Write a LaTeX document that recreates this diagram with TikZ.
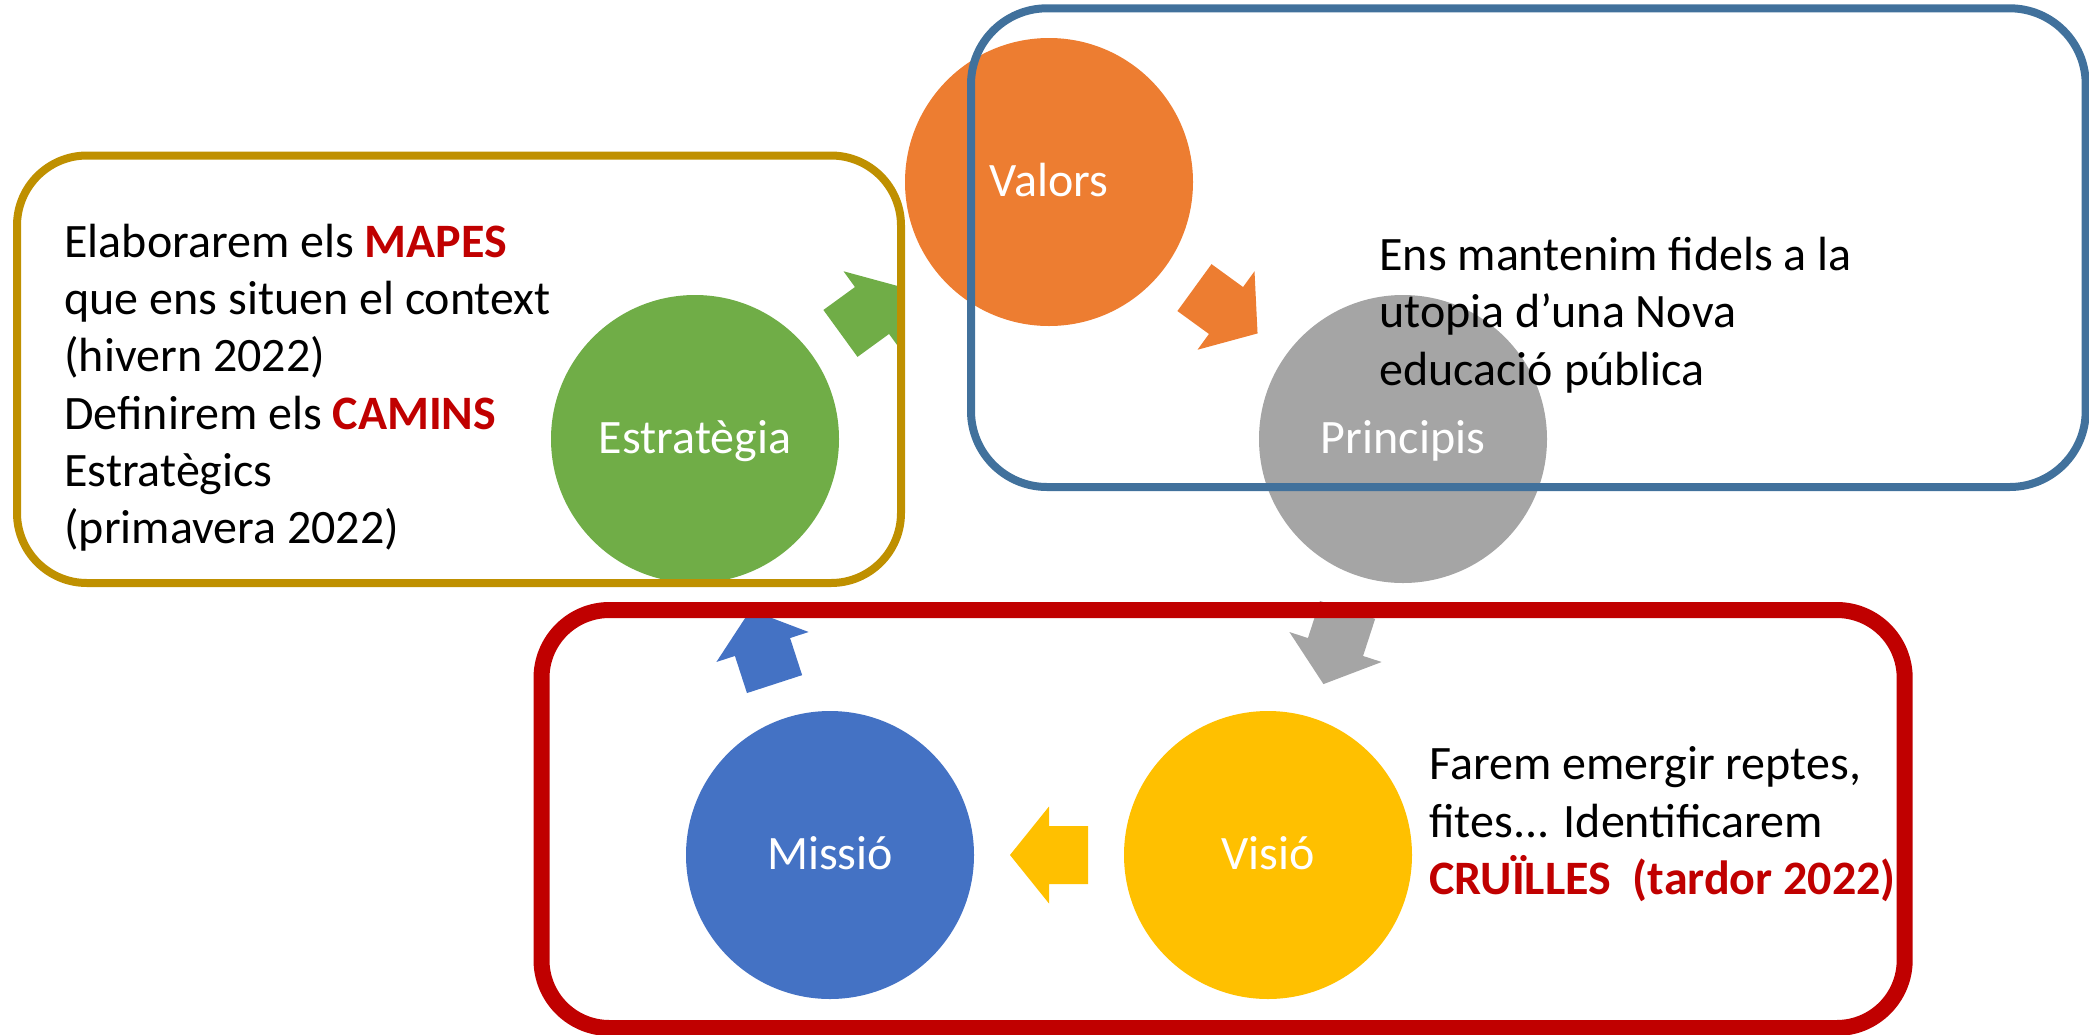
\documentclass[tikz,border=0pt]{standalone}
\usepackage{fontspec}
\setmainfont{Carlito}
\usetikzlibrary{calc}
\definecolor{cOrange}{HTML}{ED7D31}
\definecolor{cGray}{HTML}{A5A5A5}
\definecolor{cYellow}{HTML}{FFC000}
\definecolor{cBlue}{HTML}{4472C4}
\definecolor{cGreen}{HTML}{70AD47}
\definecolor{cGold}{HTML}{BF9000}
\definecolor{cSteel}{HTML}{41719C}
\definecolor{cRed}{HTML}{C00000}
\tikzset{
  circ/.style={circle, minimum size=144pt, inner sep=0pt, text=white,
    font=\fontsize{24pt}{28.65pt}\selectfont, text height=17pt, text depth=3pt},
  body/.style={anchor=north west, inner sep=0pt, align=left,
    font=\fontsize{24pt}{28.65pt}\selectfont}
}
\newcommand\cycarrow[4]{%
  \fill[#4, shift={($(#1)!0.5!(#2)$)}, rotate=#3]
    (-39,-29) -- (0,-29) -- (0,-48.5) -- (39,0) -- (0,48.5) -- (0,29) -- (-39,29) -- cycle;}
\begin{document}
\begin{tikzpicture}[x=0.5pt, y=-0.5pt]
\useasboundingbox (0,0) rectangle (2089,1034);
% circles
\node[circ, fill=cOrange] (valors) at (1049,182) {Valors};
\node[circ, fill=cGray]   (principis) at (1403,439) {Principis};
\node[circ, fill=cYellow] (visio) at (1268,855) {Visió};
\node[circ, fill=cBlue]   (missio) at (830,855) {Missió};
\node[circ, fill=cGreen]  (estrategia) at (695,439) {Estratègia};
% cycle arrows
\cycarrow{valors}{principis}{-36}{cOrange}
\cycarrow{principis}{visio}{-108}{cGray}
\cycarrow{visio}{missio}{180}{cYellow}
\cycarrow{missio}{estrategia}{108}{cBlue}
\cycarrow{estrategia}{valors}{36}{cGreen}
% texts
\node[body] (tleft) at (64,216.6) {\strut Elaborarem els {\color{cRed}\bfseries MAPES}\\
que ens situen el context\\
(hivern 2022)\\
Definirem els {\color{cRed}\bfseries CAMINS}\\
Estratègics\\
(primavera 2022)};
\node[body] (tright) at (1379,229.9) {\strut Ens mantenim fidels a la\\
utopia d’una Nova\\
educació pública};
\node[body] (tbottom) at (1429,739.2) {\strut Farem emergir reptes,\\
fites... Identificarem\\
{\color{cRed}\bfseries CRUÏLLES\ \ (tardor 2022)}};
% frames
\draw[cGold, line width=4pt, rounded corners=35pt] (17,155.5) rectangle (901,583);
\draw[cSteel, line width=4pt, rounded corners=38pt] (971,8.3) rectangle (2085.7,487);
\draw[cRed, line width=8pt, rounded corners=34pt] (541.5,610) rectangle (1904.7,1028);
\end{tikzpicture}
\end{document}
